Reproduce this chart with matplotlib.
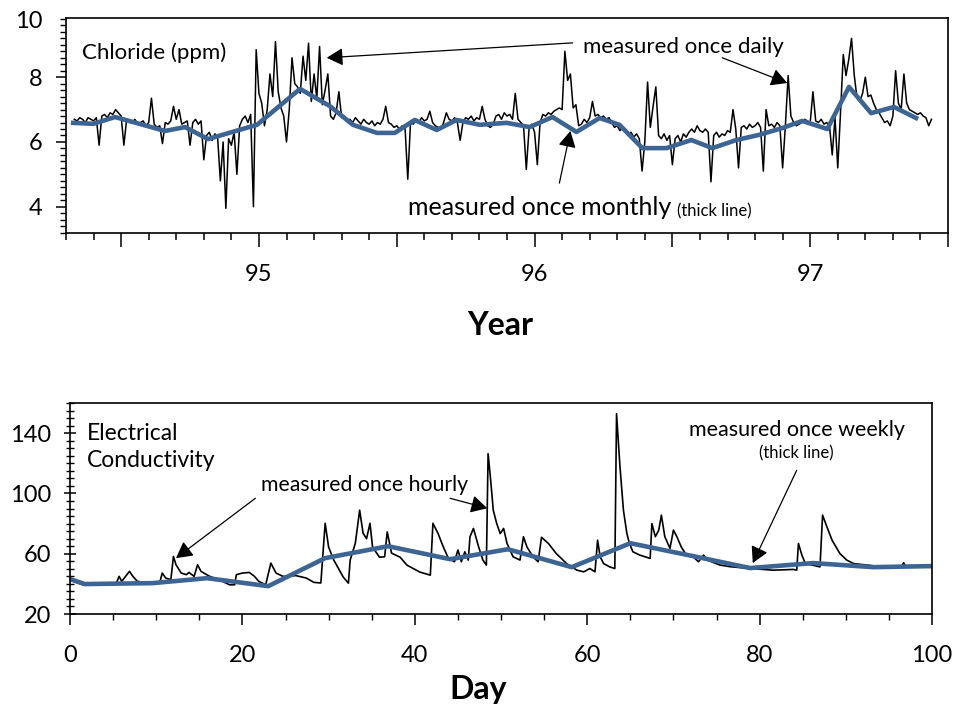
import numpy as np
import matplotlib
matplotlib.use('Agg')
import matplotlib.pyplot as plt
from matplotlib.ticker import MultipleLocator, FuncFormatter

plt.rcParams['font.family'] = ['Lato', 'DejaVu Sans']

### ---------------------- DATA ---------------------- ###
# chloride (ppm), every 0.01 yr starting 94.33
chl_start = 94.33
chl_step = 0.01
chl_ppm = [
    6.7, 6.65, 6.75, 6.7, 6.6, 6.75, 6.7, 6.65, 6.75, 5.9,
    6.8, 6.85, 6.75, 6.9, 6.85, 7.0, 6.9, 6.8, 5.9, 6.7,
    6.65, 6.6, 6.7, 6.55, 6.6, 6.65, 6.5, 6.6, 7.35, 6.55,
    6.45, 6.5, 5.95, 6.6, 6.55, 6.65, 7.1, 6.7, 7.0, 6.55,
    6.6, 6.65, 5.9, 6.6, 6.7, 6.55, 6.65, 5.45, 6.2, 6.3,
    6.05, 6.25, 6.15, 4.8, 6.0, 3.95, 6.1, 5.9, 6.3, 5.0,
    6.5, 6.7, 6.8, 6.6, 6.85, 4.0, 8.85, 7.5, 7.2, 6.5,
    7.0, 8.1, 7.4, 9.1, 7.55, 7.05, 6.8, 6.0, 7.0, 8.6,
    7.8, 7.7, 7.5, 8.65, 7.9, 9.05, 7.25, 8.1, 7.35, 8.95,
    7.15, 7.6, 8.1, 6.8, 6.7, 6.9, 7.55, 6.75, 6.8, 6.65,
    6.7, 6.6, 6.75, 6.65, 6.55, 6.7, 6.6, 6.55, 6.65, 6.5,
    6.6, 6.55, 6.7, 7.1, 6.6, 6.55, 6.45, 6.5, 6.4, 6.5,
    6.45, 4.85, 6.6, 6.55, 6.7, 6.6, 6.75, 6.65, 6.7, 6.95,
    6.6, 6.5, 6.45, 6.4, 6.6, 6.9, 6.7, 6.65, 6.75, 6.6,
    6.05, 6.6, 6.75, 6.7, 6.8, 6.65, 6.75, 6.7, 7.1, 6.7,
    6.5, 6.45, 6.55, 6.8, 6.85, 6.7, 6.9, 6.8, 6.85, 6.7,
    7.5, 6.7, 6.6, 6.5, 5.15, 6.4, 6.55, 6.3, 5.3, 6.6,
    6.85, 6.8, 6.9, 6.85, 6.95, 7.0, 7.05, 7.0, 8.8, 7.9,
    8.1, 7.05, 7.15, 6.5, 6.55, 6.7, 6.6, 6.75, 7.25, 6.8,
    6.85, 6.75, 6.8, 6.7, 6.75, 6.6, 6.45, 6.5, 6.35, 6.45,
    6.3, 6.2, 6.3, 6.15, 6.25, 6.1, 5.1, 6.0, 7.85, 6.45,
    7.1, 7.7, 6.2, 6.1, 6.25, 6.05, 6.2, 5.3, 6.1, 6.2,
    6.0, 6.25, 6.15, 6.3, 6.4, 6.3, 6.5, 6.35, 6.3, 6.4,
    6.3, 4.77, 6.2, 6.3, 6.15, 6.25, 6.2, 6.35, 6.3, 7.0,
    6.4, 5.2, 6.45, 6.5, 6.4, 6.55, 6.45, 6.5, 6.6, 6.45,
    5.1, 7.0, 6.5, 6.55, 6.45, 6.6, 6.5, 5.2, 6.5, 8.05,
    6.8, 6.6, 6.5, 6.55, 6.6, 6.7, 6.65, 6.6, 7.55, 6.65,
    6.6, 6.7, 6.55, 6.6, 6.5, 5.6, 6.75, 5.2, 6.9, 8.7,
    8.05, 8.55, 9.2, 8.05, 7.35, 7.25, 7.5, 8.0, 7.4, 7.45,
    7.2, 7.0, 6.9, 6.75, 6.6, 6.65, 6.5, 6.8, 8.2, 7.2,
    7.0, 8.1, 7.2, 7.0, 6.95, 6.9, 6.85, 6.9, 6.8, 6.75,
    6.5, 6.7,
]

# chloride measured once monthly
monthly_year = [94.326, 94.399, 94.478, 94.659, 94.732, 94.815, 94.993, 95.149,
                95.257, 95.341, 95.428, 95.493, 95.565, 95.645, 95.717, 95.801,
                95.899, 95.982, 96.065, 96.152, 96.236, 96.308, 96.391, 96.478,
                96.569, 96.645, 96.732, 96.815, 96.899, 96.971, 97.062, 97.141,
                97.221, 97.304, 97.384]
monthly_ppm = [6.59, 6.56, 6.77, 6.34, 6.46, 6.09, 6.53, 7.64,
               7.11, 6.53, 6.28, 6.28, 6.68, 6.37, 6.68, 6.53,
               6.59, 6.46, 6.77, 6.31, 6.74, 6.53, 5.81, 5.81,
               6.06, 5.81, 6.06, 6.22, 6.43, 6.65, 6.40, 7.70,
               6.89, 7.08, 6.74]

# electrical conductivity, hourly record (turning points)
ec_day = [0, 1.5, 3.0, 5.3, 5.7, 6.0, 6.9, 7.3, 7.8, 9.2,
          10.4, 10.7, 11.1, 11.7, 12.0, 12.3, 12.9, 13.5, 13.8, 14.4,
          14.8, 15.2, 16.2, 17.3, 18.5, 19.1, 19.3, 20.0, 20.8, 21.4,
          21.9, 22.7, 23.3, 23.9, 24.7, 26.2, 27.4, 28.3, 29.1, 29.6,
          30.0, 30.6, 31.7, 32.3, 32.5, 33.1, 33.6, 34.0, 34.4, 34.8,
          35.1, 35.9, 36.5, 36.8, 37.3, 38.3, 39.1, 40.6, 41.8, 42.1,
          42.7, 43.3, 43.9, 44.6, 45.0, 45.4, 45.8, 46.2, 46.4, 46.8,
          47.4, 47.9, 48.3, 48.5, 48.8, 49.1, 49.5, 49.9, 50.3, 50.7,
          51.4, 52.2, 52.6, 53.0, 53.7, 54.3, 54.7, 55.5, 56.4, 57.6,
          58.8, 59.6, 60.3, 60.9, 61.2, 61.5, 61.9, 62.6, 63.2, 63.4,
          63.8, 64.2, 64.6, 64.9, 65.3, 66.1, 67.3, 67.5, 67.9, 68.3,
          68.6, 69.0, 69.6, 70.0, 70.4, 70.9, 71.5, 72.3, 72.9, 73.5,
          73.9, 75.4, 76.6, 78.9, 81.6, 83.9, 84.3, 84.5, 84.9, 85.3,
          87.0, 87.3, 87.8, 88.4, 89.3, 90.1, 90.9, 93.2, 96.5, 96.7,
          96.9, 100]
ec_val = [42.5, 39.4, 39.8, 39.4, 45.0, 41.7, 48.3, 45.0, 41.7, 40.6,
          40.6, 47.2, 43.9, 42.8, 58.2, 52.7, 47.2, 46.1, 47.6, 45.0,
          52.7, 48.3, 45.0, 42.8, 39.4, 39.4, 46.1, 47.2, 47.6, 45.0,
          41.7, 39.4, 53.8, 47.2, 45.0, 45.5, 43.9, 41.0, 40.6, 80.2,
          64.4, 55.8, 44.5, 40.5, 55.8, 67.0, 88.9, 73.6, 70.0, 80.2,
          64.4, 57.7, 58.0, 74.5, 60.4, 57.7, 52.4, 47.8, 45.8, 80.2,
          73.4, 64.6, 56.9, 54.7, 62.5, 54.7, 61.3, 55.8, 71.3, 76.8,
          64.6, 55.8, 52.5, 126.4, 108.8, 88.9, 80.1, 73.4, 76.8, 66.8,
          58.0, 55.8, 71.3, 64.6, 58.0, 54.7, 70.9, 66.8, 60.2, 53.5,
          49.1, 48.0, 50.2, 48.0, 69.0, 58.0, 53.5, 51.3, 50.2, 152.9,
          117.6, 88.9, 73.4, 66.8, 61.3, 59.1, 56.9, 80.0, 71.3, 75.7,
          85.6, 71.3, 63.6, 75.7, 71.3, 64.6, 59.1, 58.0, 54.7, 59.1,
          55.8, 52.5, 51.4, 50.2, 49.1, 49.6, 49.1, 66.8, 59.1, 53.5,
          51.3, 85.6, 77.9, 69.0, 60.2, 55.8, 53.5, 52.0, 52.0, 54.0,
          52.0, 52.0]

# electrical conductivity measured once weekly
week_day = [0, 1.7, 9.6, 15.9, 23.0, 29.6, 36.9, 44.1, 50.8, 58.2,
            65.0, 72.3, 78.9, 86.2, 93.2, 100]
week_val = [43.2, 39.9, 40.5, 43.8, 38.5, 57.1, 65.0, 56.4, 63.0, 51.1,
            67.0, 58.4, 50.5, 53.8, 51.1, 51.8]
### -------------------------------------------------- ###

blue = '#3d6594'
arrow_kw = dict(arrowstyle='-|>,head_length=0.55,head_width=0.3', color='black',
                lw=0.9, mutation_scale=18, shrinkA=0, shrinkB=0)

fig = plt.figure(figsize=(9.6, 7.12), dpi=100)
ax1 = fig.add_axes([0.06875, 0.6728, 0.91875, 0.302])
ax2 = fig.add_axes([0.0729, 0.1376, 0.898, 0.2963])

# ---- top panel: chloride ----
chl_year = chl_start + chl_step * np.arange(len(chl_ppm))
ax1.plot(chl_year, chl_ppm, color='black', lw=1.1)
ax1.plot(monthly_year, monthly_ppm, color=blue, lw=3.3)
ax1.set_xlim(94.3, 97.5)
ax1.set_ylim(3.19, 9.83)
ax1.xaxis.set_major_locator(MultipleLocator(0.5))
ax1.xaxis.set_minor_locator(MultipleLocator(0.1))
ax1.xaxis.set_major_formatter(FuncFormatter(
    lambda v, p: f'{int(round(v))}' if abs(v - round(v)) < 1e-6 else ''))
ax1.set_yticks([4, 6, 8])
ax1.yaxis.set_minor_locator(MultipleLocator(0.2))
ax1.tick_params(axis='x', which='major', direction='out', length=10, width=1.1,
                pad=12, labelsize=17)
ax1.tick_params(axis='x', which='minor', direction='out', length=5, width=1.1)
ax1.tick_params(axis='y', which='major', direction='out', length=7, width=1.1,
                pad=10, labelsize=17)
ax1.tick_params(axis='y', which='minor', direction='out', length=4, width=1.0)
# the "10" label sits just under the top edge
ax1.annotate('10', xy=(0, 9.71), xycoords=ax1.get_yaxis_transform(),
             xytext=(-17, 0), textcoords='offset points', ha='right', va='center',
             fontsize=17)
ax1.set_xlabel('Year', fontsize=23, fontweight='bold')
ax1.xaxis.set_label_coords(0.492, -0.43)
ax1.xaxis.label.set_va('center')

ax1.text(94.359, 8.75, 'Chloride (ppm)', fontsize=16, va='center')
ax1.text(96.174, 8.94, 'measured once daily', fontsize=16, va='center')
t_month = ax1.text(95.54, 3.74, 'measured once monthly', fontsize=18, va='baseline')
ax1.annotate('(thick line)', xy=(1, 0), xycoords=t_month, xytext=(4, 0),
             textcoords='offset points', fontsize=12, va='bottom')
ax1.annotate('', xy=(95.246, 8.60), xytext=(96.138, 9.06), arrowprops=arrow_kw)
ax1.annotate('', xy=(96.917, 7.82), xytext=(96.681, 8.60), arrowprops=arrow_kw)
ax1.annotate('', xy=(96.13, 6.34), xytext=(96.09, 4.73), arrowprops=arrow_kw)

# ---- bottom panel: electrical conductivity ----
ax2.plot(ec_day, ec_val, color='black', lw=1.2)
ax2.plot(week_day, week_val, color=blue, lw=3.3)
ax2.set_xlim(0, 100)
ax2.set_ylim(20, 160)
ax2.xaxis.set_major_locator(MultipleLocator(20))
ax2.xaxis.set_minor_locator(MultipleLocator(5))
ax2.set_yticks([20, 60, 100, 140])
ax2.yaxis.set_minor_locator(MultipleLocator(5))
ax2.tick_params(axis='x', which='major', direction='out', length=8, width=1.1,
                pad=14, labelsize=17)
ax2.tick_params(axis='x', which='minor', direction='out', length=4.5, width=1.0)
ax2.tick_params(axis='y', which='major', direction='inout', length=9, width=1.1,
                pad=9, labelsize=17)
ax2.tick_params(axis='y', which='minor', direction='inout', length=6, width=1.0)
ax2.set_xlabel('Day', fontsize=23, fontweight='bold')
ax2.xaxis.set_label_coords(0.474, -0.36)
ax2.xaxis.label.set_va('center')

ax2.text(2.0, 130.6, 'Electrical\nConductivity', fontsize=16.5, va='center',
         linespacing=1.35)
ax2.text(22.2, 105.4, 'measured once hourly', fontsize=15.3, va='center')
ax2.text(84.3, 141.9, 'measured once weekly', fontsize=15.5, ha='center', va='center')
ax2.text(84.3, 126.6, '(thick line)', fontsize=12, ha='center', va='center')
ax2.annotate('', xy=(12.3, 57.1), xytext=(21.5, 96.8), arrowprops=arrow_kw)
ax2.annotate('', xy=(48.4, 90.2), xytext=(44.1, 96.8), arrowprops=arrow_kw)
ax2.annotate('', xy=(79.2, 53.8), xytext=(84.3, 115.4), arrowprops=arrow_kw)

for ax in (ax1, ax2):
    for s in ax.spines.values():
        s.set_linewidth(1.2)

fig.savefig('out.png', dpi=100)
